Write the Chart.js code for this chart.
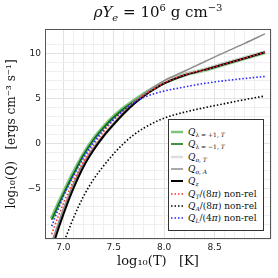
<!DOCTYPE html>
<html>
<head>
<meta charset="utf-8">
<script src="https://cdn.jsdelivr.net/npm/chart.js@4.4.1/dist/chart.umd.min.js"></script>
<style>
  html, body { margin: 0; padding: 0; background: #fff; }
  #wrap { position: relative; width: 278px; height: 278px; }
  #title {
    position: absolute; left: 45px; width: 226px; top: 2px;
    text-align: center; font: 15px 'DejaVu Serif', serif; color: #111; white-space: nowrap;
  }
  #title sub, #title sup { font-size: 10px; }
  #legend {
    position: absolute; left: 168px; top: 119px; width: 96px; height: 112px;
    box-sizing: border-box; border: 1px solid #333; background: #fff;
    padding-top: 6px; font: 9px 'DejaVu Serif', serif; color: #111;
  }
  .row { height: 12.3px; line-height: 12px; display: flex; align-items: center; white-space: nowrap; }
  .row svg { margin: 0 5px 0 2px; flex: none; }
  .row sub { font-size: 6px; line-height: 0; vertical-align: -2px; }
</style>
</head>
<body>
<div id="wrap">
  <canvas id="chart" width="278" height="278"></canvas>
  <div id="title"><i>ρY</i><sub><i>e</i></sub> = 10<sup>6</sup> g cm<sup>−3</sup></div>
  <div id="legend"></div>
</div>
<script>
// ── Data (log10 T grid and log10 Q curves) ────────────────────────────────
const LOGT   = [6.884, 6.95, 7.0, 7.05, 7.1, 7.2, 7.3, 7.4, 7.5, 7.6, 7.7, 7.8, 7.9, 8.0, 8.2, 8.4, 8.6, 8.8, 9.0];

const Q_LP1  = [-8.4, -6.75, -5.55, -4.4, -3.3, -1.25, 0.45, 1.8, 2.95, 3.9, 4.7, 5.45, 6.15, 6.75, 7.6, 8.15, 8.8, 9.45, 10.1];
const Q_LM1  = [-8.5, -6.85, -5.65, -4.5, -3.4, -1.3, 0.4, 1.75, 2.9, 3.85, 4.65, 5.4, 6.1, 6.7, 7.55, 8.15, 8.8, 9.45, 10.1];
const Q_OT   = [-11.4, -9.2, -7.6, -6.1, -4.75, -2.4, -0.65, 0.8, 2.1, 3.35, 4.45, 5.35, 6.1, 6.75, 7.6, 8.2, 8.85, 9.5, 10.15];
const Q_OA   = [-11.0, -8.9, -7.3, -5.9, -4.5, -2.2, -0.5, 0.95, 2.25, 3.45, 4.55, 5.5, 6.25, 6.95, 8.0, 9.05, 10.1, 11.1, 12.15];
const Q_Z    = [-11.8, -9.5, -7.9, -6.4, -5.0, -2.6, -0.75, 0.8, 2.1, 3.3, 4.35, 5.25, 6.0, 6.65, 7.55, 8.15, 8.8, 9.45, 10.1];
const Q_T_NR = [-10.1, -8.1, -6.7, -5.4, -4.2, -2.0, -0.2, 1.3, 2.6, 3.65, 4.55, 5.35, 6.05, 6.7, 7.6, 8.15, 8.8, 9.45, 10.1];
const Q_A_NR = [-14.4, -12.5, -11.1, -9.7, -8.3, -5.9, -4.0, -2.5, -1.15, 0.0, 0.95, 1.7, 2.3, 2.8, 3.45, 3.95, 4.4, 4.85, 5.25];
const Q_L_NR = [-9.2, -7.3, -5.9, -4.7, -3.6, -1.6, 0.1, 1.5, 2.7, 3.7, 4.5, 5.1, 5.5, 5.8, 6.25, 6.65, 6.95, 7.2, 7.42];

const X_TICKS = [7.0, 7.5, 8.0, 8.5, 9.0];
const Y_TICKS = [-10, -5, 0, 5, 10];

const LABELS = [
  '<i>Q</i><sub>λ = +1, <i>T</i></sub>',
  '<i>Q</i><sub>λ = −1, <i>T</i></sub>',
  '<i>Q</i><sub><i>o</i>, <i>T</i></sub>',
  '<i>Q</i><sub><i>o</i>, <i>A</i></sub>',
  '<i>Q</i><sub><i>z</i></sub>',
  '<i>Q</i><sub><i>T</i></sub>/(8<i>π</i>) non-rel',
  '<i>Q</i><sub><i>A</i></sub>/(8<i>π</i>) non-rel',
  '<i>Q</i><sub><i>L</i></sub>/(4<i>π</i>) non-rel',
];

// ── Styles ─────────────────────────────────────────────────────────────────
const SERIES = [
  { data: Q_LP1,  color: '#7cc47c', width: 4,   dash: [] },
  { data: Q_LM1,  color: '#0b6b0b', width: 1.5, dash: [] },
  { data: Q_OT,   color: '#dcdcdc', width: 3,   dash: [] },
  { data: Q_OA,   color: '#8c8c8c', width: 1.5, dash: [] },
  { data: Q_Z,    color: '#000000', width: 2,   dash: [] },
  { data: Q_T_NR, color: '#ff3030', width: 1.6, dash: [1.5, 2] },
  { data: Q_A_NR, color: '#000000', width: 1.6, dash: [1.5, 2] },
  { data: Q_L_NR, color: '#2525ff', width: 1.6, dash: [1.5, 2] },
];

function minus(v) { return String(v).replace('-', '−'); }
function near(v, list) { return list.some(t => Math.abs(v - t) < 1e-6); }

const framePlugin = {
  id: 'frame',
  afterDraw(chart) {
    const a = chart.chartArea, ctx = chart.ctx;
    ctx.save();
    ctx.strokeStyle = '#555';
    ctx.lineWidth = 1;
    ctx.strokeRect(Math.round(a.left) + 0.5, Math.round(a.top) + 0.5,
                   Math.round(a.right - a.left) - 1, Math.round(a.bottom - a.top) - 1);
    ctx.restore();
  }
};

const chart = new Chart(document.getElementById('chart'), {
  type: 'line',
  data: {
    datasets: SERIES.map((s, i) => ({
      label: LABELS[i],
      data: LOGT.map((x, k) => ({ x: x, y: s.data[k] })),
      borderColor: s.color,
      borderWidth: s.width,
      borderDash: s.dash,
      pointRadius: 0,
      fill: false,
      cubicInterpolationMode: 'monotone',
      order: SERIES.length - i,
    }))
  },
  options: {
    responsive: false,
    animation: false,
    layout: { padding: { top: 29, right: 7, left: 0, bottom: 0 } },
    plugins: { legend: { display: false }, tooltip: { enabled: false } },
    scales: {
      x: {
        type: 'linear', min: 6.818, max: 9.06,
        afterFit(s) { s.height = 39; },
        ticks: {
          stepSize: 0.1, autoSkip: false, maxRotation: 0, padding: 3,
          color: '#222', font: { family: 'DejaVu Sans', size: 9 },
          callback: v => near(v, X_TICKS) ? v.toFixed(1) : ''
        },
        grid: { drawTicks: false, color: c => near(c.tick.value, X_TICKS) ? '#e2e2e2' : '#efefef' },
        border: { display: false },
        title: { display: true, text: 'log₁₀(T)   [K]', color: '#111',
                 font: { family: 'DejaVu Serif', size: 13 }, padding: { top: 0, bottom: 9 } }
      },
      y: {
        type: 'linear', min: -10.63, max: 12.69,
        afterFit(s) { s.width = 45; },
        ticks: {
          stepSize: 1, autoSkip: false, padding: 4,
          color: '#222', font: { family: 'DejaVu Sans', size: 9 },
          callback: v => near(v, Y_TICKS) ? minus(v) : ''
        },
        grid: { drawTicks: false, color: c => near(c.tick.value, Y_TICKS) ? '#e2e2e2' : '#efefef' },
        border: { display: false },
        title: { display: true, text: 'log₁₀(Q)   [ergs cm⁻³ s⁻¹]', color: '#111',
                 font: { family: 'DejaVu Serif', size: 12 }, padding: { top: 5, bottom: 0 } }
      }
    }
  },
  plugins: [framePlugin]
});

// ── HTML legend ────────────────────────────────────────────────────────────
const legend = document.getElementById('legend');
SERIES.forEach((s, i) => {
  const row = document.createElement('div');
  row.className = 'row';
  const dash = s.dash.length ? `stroke-dasharray="${s.dash.join(' ')}"` : '';
  row.innerHTML =
    `<svg width="12" height="6"><line x1="0" y1="3" x2="12" y2="3" stroke="${s.color}" ` +
    `stroke-width="${Math.min(s.width, 2.5)}" ${dash}/></svg><span>${LABELS[i]}</span>`;
  legend.appendChild(row);
});
</script>
</body>
</html>
